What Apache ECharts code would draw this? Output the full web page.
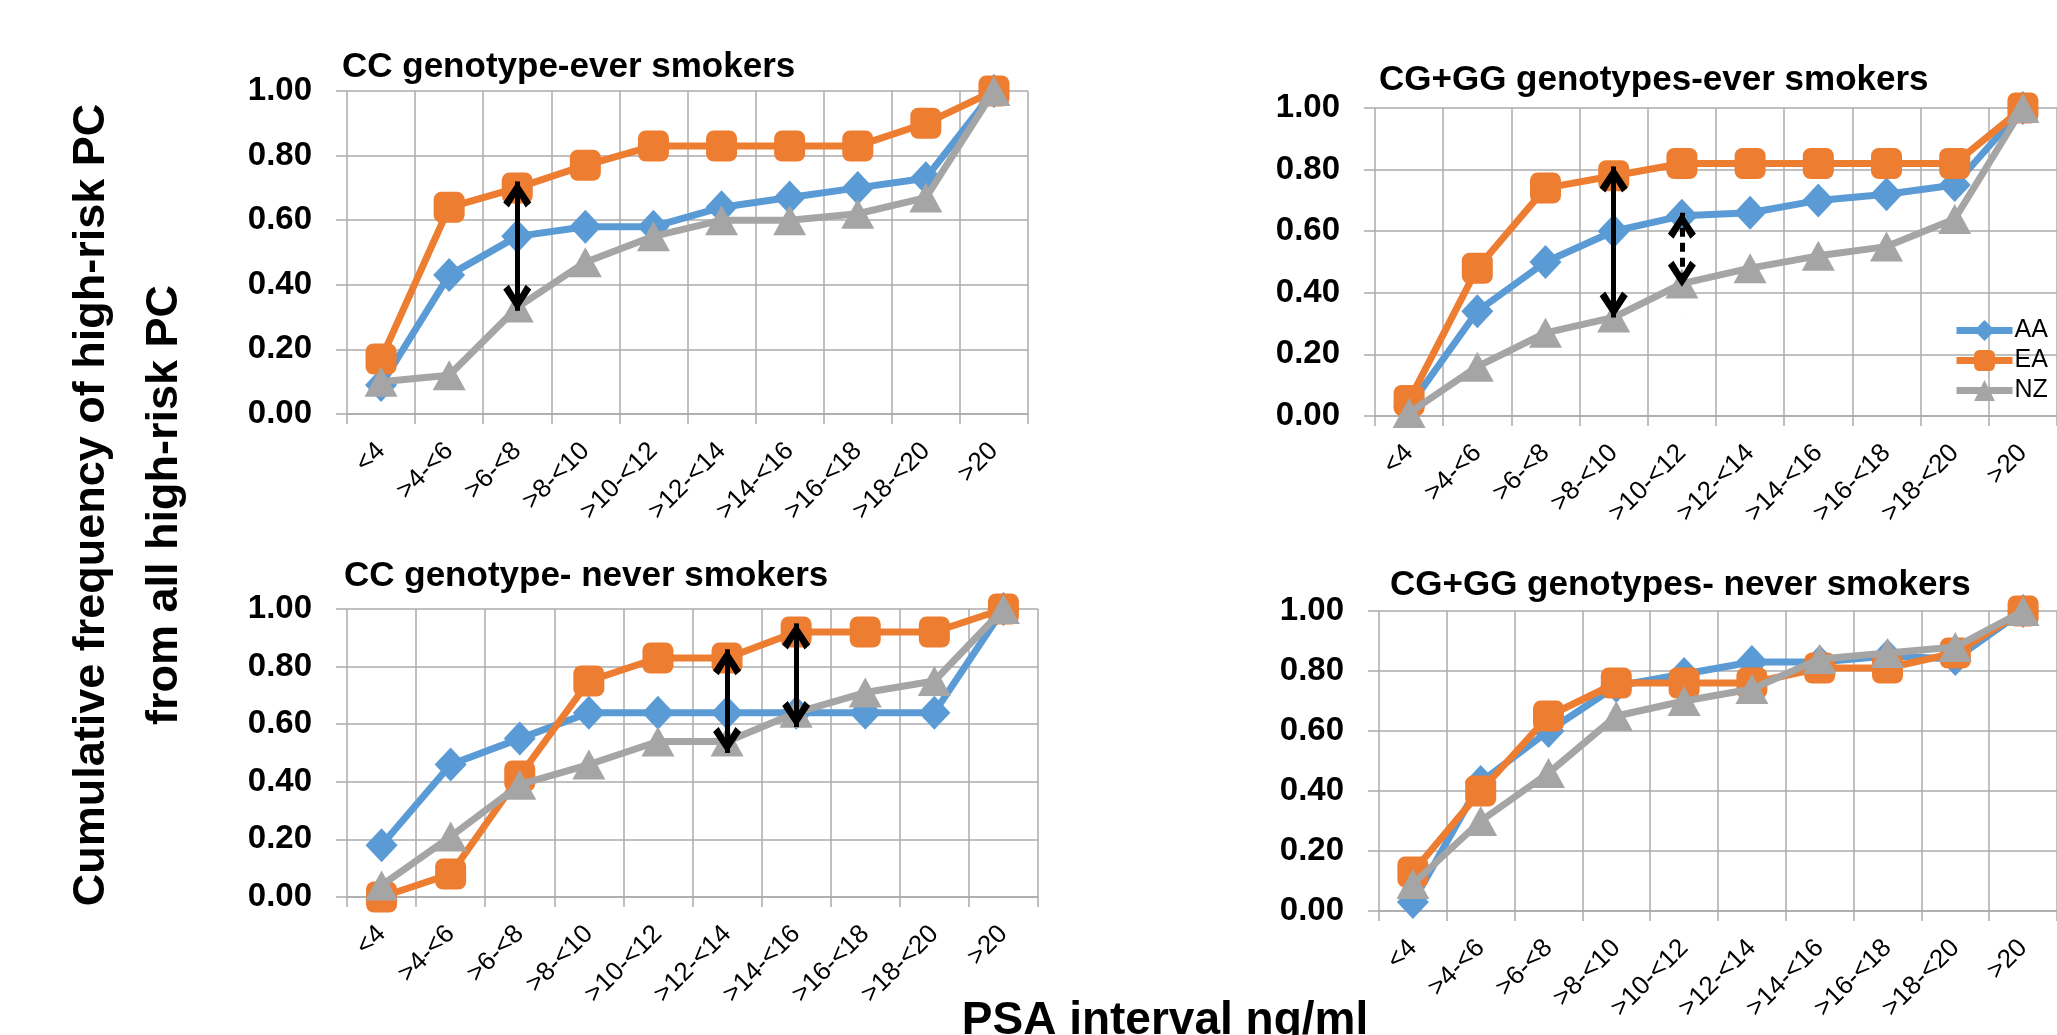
<!DOCTYPE html>
<html>
<head>
<meta charset="utf-8">
<script src="https://cdn.jsdelivr.net/npm/echarts@6/dist/echarts.min.js"></script>
<style>
html,body{margin:0;padding:0;background:#fff;overflow:hidden}
#c{width:2057px;height:1035px}
</style>
</head>
<body>
<div id="c"></div>
<script>
// ---------- data ----------
const categories = ['<4','>4-<6','>6-<8','>8-<10','>10-<12','>12-<14','>14-<16','>16-<18','>18-<20','>20'];
const seriesNames = ['AA','EA','NZ'];
const panelTitles = ['CC genotype-ever smokers','CG+GG genotypes-ever smokers','CC genotype- never smokers','CG+GG genotypes- never smokers'];
const yAxisTitleLines = ['Cumulative frequency of high-risk PC','from all high-risk PC'];
const xAxisTitle = 'PSA interval ng/ml';

// CC genotype - ever smokers
const ccEverAA = [0.09,0.43,0.55,0.58,0.58,0.64,0.67,0.70,0.73,1.00];
const ccEverEA = [0.17,0.64,0.70,0.77,0.83,0.83,0.83,0.83,0.90,1.00];
const ccEverNZ = [0.10,0.12,0.33,0.47,0.55,0.60,0.60,0.62,0.67,1.00];
// CG+GG genotypes - ever smokers
const cgEverAA = [0.03,0.34,0.50,0.60,0.65,0.66,0.70,0.72,0.75,1.00];
const cgEverEA = [0.05,0.48,0.74,0.78,0.82,0.82,0.82,0.82,0.82,1.00];
const cgEverNZ = [0.01,0.16,0.27,0.32,0.43,0.48,0.52,0.55,0.64,1.00];
// CC genotype - never smokers
const ccNeverAA = [0.18,0.46,0.55,0.64,0.64,0.64,0.64,0.64,0.64,1.00];
const ccNeverEA = [0.00,0.08,0.42,0.75,0.83,0.83,0.92,0.92,0.92,1.00];
const ccNeverNZ = [0.04,0.21,0.39,0.46,0.54,0.54,0.64,0.71,0.75,1.00];
// CG+GG genotypes - never smokers
const cgNeverAA = [0.03,0.43,0.60,0.75,0.79,0.83,0.83,0.85,0.84,1.00];
const cgNeverEA = [0.13,0.40,0.65,0.76,0.76,0.76,0.81,0.81,0.86,1.00];
const cgNeverNZ = [0.09,0.30,0.46,0.65,0.70,0.74,0.84,0.86,0.88,1.00];

// double-headed arrows (category, top value, bottom value, dashed)
const arrowsCcEver = [['>6-<8',0.72,0.32,false]];
const arrowsCgEver = [['>8-<10',0.81,0.32,false],['>10-<12',0.66,0.42,true]];
const arrowsCcNever = [['>12-<14',0.86,0.50,false],['>14-<16',0.95,0.59,false]];
const arrowsCgNever = [];

const yMin = 0, yMax = 1, yStep = 0.2;

// ---------- styling / layout ----------
const FONT = "'Liberation Sans', Arial, sans-serif";
const colors = {AA:'#5b9bd5', EA:'#ed7d31', NZ:'#a5a5a5'};
const symbols = {AA:['diamond',[32,34]], EA:['roundRect',[31,31]], NZ:['triangle',[33,30]]};
const gridColor = '#ababab';
const grids = [
  {left:347, top:91, width:681, height:323},
  {left:1375, top:108, width:703, height:308},
  {left:347, top:609, width:691, height:288},
  {left:1379, top:611, width:700, height:300}
];
const panelData = [
  [ccEverAA, ccEverEA, ccEverNZ, arrowsCcEver],
  [cgEverAA, cgEverEA, cgEverNZ, arrowsCgEver],
  [ccNeverAA, ccNeverEA, ccNeverNZ, arrowsCcNever],
  [cgNeverAA, cgNeverEA, cgNeverNZ, arrowsCgNever]
];
const titlePos = [[342,67],[1379,80],[344,576],[1390,585]];
// chevron arrow head, tip at the symbol centre
const arrowHead = 'path://M10,0 L20,15 L16,18.5 L10,8.5 L4,18.5 L0,15 Z M9.9,-18.5 L10.1,-18.5 L10,-18.4 Z';

const xAxes = [], yAxes = [], series = [];
grids.forEach((g, i) => {
  xAxes.push({
    type:'category', gridIndex:i, data:categories, boundaryGap:true,
    axisLine:{show:true, lineStyle:{color:gridColor, width:1.5}},
    axisTick:{show:true, length:10, interval:0, lineStyle:{color:gridColor, width:1.5}},
    splitLine:{show:true, interval:0, lineStyle:{color:gridColor, width:1.5}},
    axisLabel:{interval:0, rotate:45, margin:33, fontSize:26, color:'#000', fontFamily:FONT}
  });
  yAxes.push({
    type:'value', gridIndex:i, min:yMin, max:yMax, interval:yStep,
    axisLine:{show:false},
    axisTick:{show:true, length:11, lineStyle:{color:gridColor, width:1.5}},
    splitLine:{show:true, lineStyle:{color:gridColor, width:1.5}},
    axisLabel:{margin:35, fontSize:33, fontWeight:'bold', color:'#000', fontFamily:FONT,
      formatter:v => v.toFixed(2)}
  });
  const pd = panelData[i];
  seriesNames.forEach((name, k) => {
    const s = {
      name, type:'line', xAxisIndex:i, yAxisIndex:i, data:pd[k],
      symbol:symbols[name][0], symbolSize:symbols[name][1], showSymbol:true,
      lineStyle:{color:colors[name], width:7},
      itemStyle:{color:colors[name]},
      emphasis:{disabled:true}, z:2+k
    };
    if (k === 2 && pd[3].length) {
      s.markLine = {
        silent:true, animation:false, z:10,
        symbol:[arrowHead, arrowHead], symbolSize:[28,52],
        label:{show:false},
        data: pd[3].map(a => [
          {coord:[a[0], a[1]], lineStyle:{color:'#000', width:5, type:a[3] ? [9,6] : 'solid'}, itemStyle:{color:'#000'}},
          {coord:[a[0], a[2]]}
        ])
      };
    }
    series.push(s);
  });
});

const graphic = [];
panelTitles.forEach((t, i) => {
  graphic.push({type:'text', x:titlePos[i][0], y:titlePos[i][1], silent:true,
    style:{text:t, fontSize:35, fontWeight:'bold', fontFamily:FONT, fill:'#000', align:'left', verticalAlign:'middle'}});
});
graphic.push({type:'text', x:92, y:505, rotation:Math.PI/2, silent:true,
  style:{text:yAxisTitleLines[0], fontSize:45, fontWeight:'bold', fontFamily:FONT, fill:'#000', align:'center', verticalAlign:'middle'}});
graphic.push({type:'text', x:165, y:505, rotation:Math.PI/2, silent:true,
  style:{text:yAxisTitleLines[1], fontSize:45, fontWeight:'bold', fontFamily:FONT, fill:'#000', align:'center', verticalAlign:'middle'}});
graphic.push({type:'text', x:1165, y:1021, silent:true,
  style:{text:xAxisTitle, fontSize:46, fontWeight:'bold', fontFamily:FONT, fill:'#000', align:'center', verticalAlign:'middle'}});

const chart = echarts.init(document.getElementById('c'), null, {renderer:'canvas'});
chart.setOption({
  animation:false,
  backgroundColor:'#fff',
  textStyle:{fontFamily:FONT},
  legend:{
    data:seriesNames, orient:'vertical', left:1948, top:313,
    itemWidth:56, itemHeight:26, itemGap:5,
    lineStyle:{width:7},
    textStyle:{fontSize:25, color:'#000', fontFamily:FONT, padding:[0,0,0,-3]}
  },
  grid:grids.map(g => Object.assign({containLabel:false}, g)),
  xAxis:xAxes, yAxis:yAxes, series, graphic
});
</script>
</body>
</html>
